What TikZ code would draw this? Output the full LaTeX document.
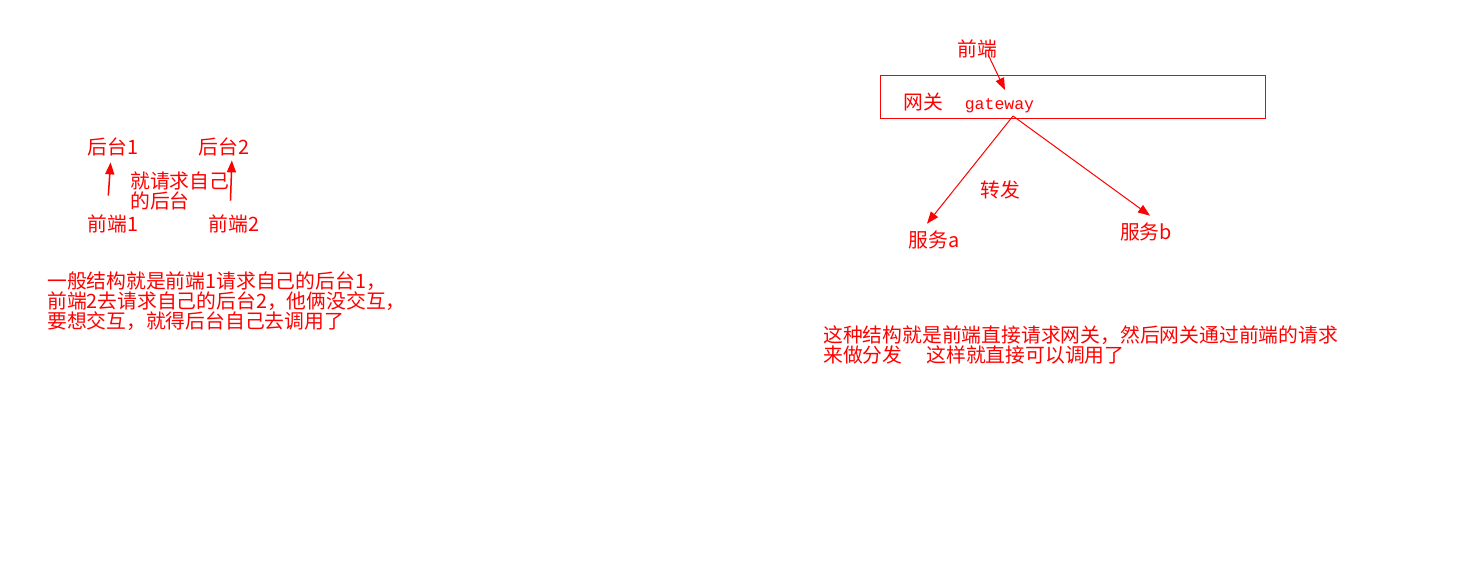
\documentclass[tikz,border=0pt]{standalone}
\usepackage{fontspec}
\setmainfont{Noto Sans CJK SC}
\setmonofont{Liberation Mono}
\usetikzlibrary{positioning, arrows.meta}

\begin{document}
\begin{tikzpicture}[
    % GLOBAL CFG
    x=1pt, y=-1pt,
    font=\fontsize{19.8}{19.8}\selectfont,
    text=red,
    >={Triangle[length=12pt,width=9pt]},
    % Styles
    word/.style={% For plain labels
        inner sep=0pt,
        },
    para/.style={% For the notes under each part
        inner sep=0pt,
        anchor=west,
        align=left,
        },
    gatebox/.style={% For the gateway box
        rectangle,
        draw=red,
        line width=1pt,
        minimum width=385pt,
        minimum height=42pt,
        inner sep=0pt,
        },
    ArrowL/.style={% Arrows of the left part
        ->,
        draw=red,
        line width=1.5pt,
        },
    ArrowR/.style={% Arrows of the right part
        ->,
        draw=red,
        line width=1pt,
        },
    ]
    \useasboundingbox (0,0) rectangle (1460,578);

%Left part: each front end with its own back end
    % Draw back ends and front ends
    \node [word] (back1) at (113,147) {后台1};
    \node [word] (back2) at (224,147) {后台2};
    \node [word] (front1) at (113,224) {前端1};
    \node [word] (front2) at (234,224) {前端2};
    \node [para] (note1) at (130,191) {就请求自己\\的后台};

    % Drawing arrows
    \draw [ArrowL, shorten <=19pt, shorten >=6pt]
        ([xshift=-6pt]front1.north) -- ([xshift=-2pt]back1.south);
    \draw [ArrowL, shorten <=14pt, shorten >=4pt]
        ([xshift=-4pt]front2.north) -- ([xshift=8pt]back2.south);

    \node [para, font=\fontsize{19.8}{18.5}\selectfont] (desc1) at (47,301.5)
        {一般结构就是前端1请求自己的后台1，\\前端2去请求自己的后台2，他俩没交互，\\要想交互，就得后台自己去调用了};

%Right part: the gateway
    \node [word] (front) at (977,49) {前端};
    \node [gatebox] (gate) at (1072.5,97) {};
    \node [word, anchor=west] (gatetxt) at (903,103)
        {网关\hspace{22pt}{\ttfamily\fontsize{16.5}{16.5}\selectfont gateway}};
    \node [word] (srva) at (934,240) {服务a};
    \node [word] (srvb) at (1146,232) {服务b};
    \node [word] (fwd) at (1000,190) {转发};

    % Points on the box
    \coordinate (gin) at (1005,90);
    \coordinate (gout) at (1013,116);

    % Drawing arrows
    \draw [ArrowR] ([xshift=11pt,yshift=4pt]front.south) -- (gin);
    \draw [ArrowR] (gout) -- ([xshift=-7pt,yshift=7pt]srva.north);
    \draw [ArrowR] (gout) -- ([xshift=4pt,yshift=7pt]srvb.north);

    \node [para, font=\fontsize{19.8}{20}\selectfont] (desc2) at (823,345)
        {这种结构就是前端直接请求网关，然后网关通过前端的请求\\来做分发\hspace{24pt}这样就直接可以调用了};

\end{tikzpicture}
\end{document}
